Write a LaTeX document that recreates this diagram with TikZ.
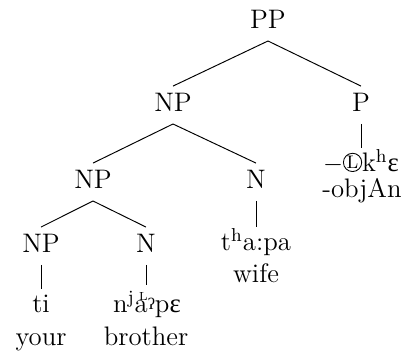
\documentclass[tikz,border=0pt]{standalone}
\usepackage{fontspec}
\newfontfamily\ipafont{Liberation Serif}
\usepackage{tikz}

\newcommand{\ipa}[1]{{\ipafont #1}}
\newcommand{\toneL}{\tikz[baseline=(toneL.south)]\node[draw,circle,line width=0.4pt,inner sep=0.2pt,font=\fontsize{8.5}{9}\selectfont] (toneL) {L};}

\begin{document}
\begin{tikzpicture}[x=0.467pt,y=-0.467pt,font=\fontsize{12.5}{14}\selectfont]
        % Define the styles for the category labels and the words
        \tikzstyle{cat}=[anchor=base, text height=8.5pt, text depth=2pt, inner sep=3.4pt];
        \tikzstyle{word}=[anchor=base, text height=8.5pt, inner sep=2.5pt];
        \tikzstyle{branch}=[line width=0.45pt];

        % Fix the size of the picture
        \useasboundingbox (0,0) rectangle (403,355);

        % Category labels
        \node[cat] (PP) at (268,29) {PP};
        \node[cat] (NPa) at (173,112) {NP};
        \node[cat] (P) at (361,112) {P};
        \node[cat] (NPb) at (93,189) {NP};
        \node[cat] (Nb) at (256,189) {N};
        \node[cat] (NPc) at (41,253) {NP};
        \node[cat] (Nc) at (146,253) {N};

        % Words and glosses
        \node[word] (ti) at (41,313) {ti};
        \node[word] (your) at (41,346) {your};
        \node[word,text height=10.5pt] (brotherw) at (147,313) {n\textsuperscript{j}a\makebox[0pt][r]{\raisebox{5.8pt}{\fontsize{5.5}{6}\selectfont L}}\raisebox{0.3ex}{\ipafont\fontsize{7.5}{8}\selectfont ʔ}p\ipa{ɛ}};
        \node[word] (brother) at (146,346) {brother};
        \node[word] (wifew) at (256,251) {t\textsuperscript{h}a:pa};
        \node[word] (wife) at (256,283) {wife};
        \node[word] (objw) at (361,172) {$-$\toneL k\textsuperscript{h}\ipa{ɛ}};
        \node[word] (obj) at (362,198) {-objAn};

        % Draw the branches
        \draw[branch] (PP.south) -- (NPa.north);
        \draw[branch] (PP.south) -- (P.north);
        \draw[branch] (NPa.south) -- (NPb.north);
        \draw[branch] (NPa.south) -- (Nb.north);
        \draw[branch] (NPb.south) -- (NPc.north);
        \draw[branch] (NPb.south) -- (Nc.north);

        % Draw the lines down to the words
        \draw[branch] (P.south) -- (objw.north -| P.south);
        \draw[branch] (Nb.south) -- (wifew.north -| Nb.south);
        \draw[branch] (NPc.south) -- (ti.north -| NPc.south);
        \draw[branch] (Nc.south) -- (brotherw.north -| Nc.south);

    \end{tikzpicture}
\end{document}
